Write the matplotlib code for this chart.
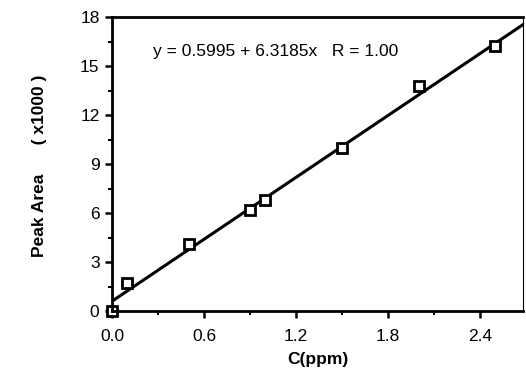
import matplotlib
matplotlib.use('Agg')
from matplotlib import pyplot as plt
from matplotlib.ticker import MultipleLocator

conc = [0.0, 0.1, 0.5, 0.9, 1.0, 1.5, 2.0, 2.5]
area = [0.0, 1.7, 4.1, 6.2, 6.8, 10.0, 13.8, 16.2]
intercept = 0.5995
slope = 6.3185
fit_x = [0.0, 2.68]

plt.rcParams['font.family'] = ['Liberation Sans', 'DejaVu Sans']

fig = plt.figure(figsize=(5.26, 3.71), dpi=100)
ax = fig.add_axes([112 / 526, 60 / 371, 411 / 526, 294 / 371])

ax.plot(fit_x, [intercept + slope * x for x in fit_x], color='black', lw=2.2)
ax.plot(conc, area, 's', ms=6.5, mfc='white', mec='black', mew=2, clip_on=False)

ax.set_xlim(0, 2.68)
ax.set_ylim(0, 18)
ax.xaxis.set_major_locator(MultipleLocator(0.6))
ax.xaxis.set_minor_locator(MultipleLocator(0.3))
ax.yaxis.set_major_locator(MultipleLocator(3))
ax.yaxis.set_minor_locator(MultipleLocator(1.5))
ax.xaxis.set_major_formatter(plt.FuncFormatter(lambda v, p: '%.1f' % v))

ax.tick_params(which='major', direction='out', length=5, width=1.8,
               labelsize=12.5, pad=4)
ax.tick_params(axis='x', which='major', pad=8)
ax.tick_params(which='minor', direction='out', length=3, width=1.5)
ax.tick_params(top=False, right=False)

for side in ['left', 'bottom', 'top']:
    ax.spines[side].set_linewidth(2)
ax.spines['right'].set_linewidth(0.8)

ax.text(0.27, 15.9, 'y = 0.5995 + 6.3185x   R = 1.00', fontsize=12.5,
        va='center', ha='left')

ax.set_xlabel('C(ppm)', fontsize=12.5, fontweight='bold', labelpad=6)
fig.text(40 / 526, 0.553, 'Peak Area      ( x1000 )', rotation=90,
         fontsize=12.5, fontweight='bold', ha='center', va='center')

fig.savefig('out.png', dpi=100)
